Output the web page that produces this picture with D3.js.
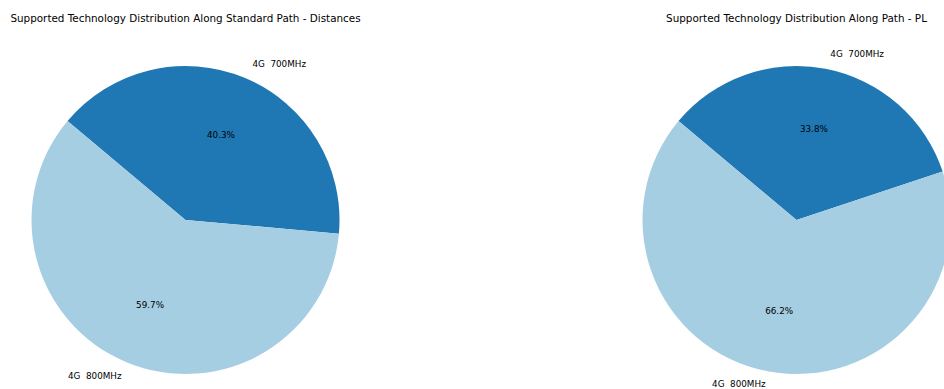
<!DOCTYPE html>
<html>
<head>
<meta charset="utf-8">
<script src="https://cdn.jsdelivr.net/npm/d3@7"></script>
<style>
  html, body { margin: 0; padding: 0; background: #fff; }
  svg { display: block; font-family: "DejaVu Sans", sans-serif; }
  text { white-space: pre; }
</style>
</head>
<body>
<svg id="chart" width="944" height="389"></svg>
<script>
// Technology share along each path
const categories = ["4G  700MHz", "4G  800MHz"];
const distancesShare = [40.3, 59.7];
const plShare = [33.8, 66.2];
const sliceColors = ["#1f78b4", "#a6cee3"];
const titles = [
  "Supported Technology Distribution Along Standard Path - Distances",
  "Supported Technology Distribution Along Path - PL"
];

const width = 944, height = 389;
const svg = d3.select("#chart");
const radius = 154;
const centers = [[185.5, 220], [796.5, 220]];
const startDeg = 140; // first wedge starts here, slices run clockwise

const color = d3.scaleOrdinal().domain(categories).range(sliceColors);

function drawPie(values, center, title) {
  const data = categories.map((c, i) => ({ cat: c, value: values[i] }));
  // d3 angles: 0 at 12 o'clock, clockwise. Convert from math angle 140°.
  const start = (90 - startDeg) * Math.PI / 180;
  const pie = d3.pie().sort(null).value(d => d.value)
    .startAngle(start).endAngle(start + 2 * Math.PI);
  const arcs = pie(data);
  const arc = d3.arc().innerRadius(0).outerRadius(radius);

  const g = svg.append("g").attr("transform", `translate(${center[0]},${center[1]})`);
  g.selectAll("path").data(arcs).join("path")
    .attr("d", arc)
    .attr("fill", d => color(d.data.cat));

  const mid = d => (d.startAngle + d.endAngle) / 2;
  const maxY = height - center[1] - 5;
  // category labels outside the pie
  g.selectAll("text.lab").data(arcs).join("text")
    .attr("class", "lab")
    .attr("x", d => Math.sin(mid(d)) * radius * 1.1 + (Math.sin(mid(d)) >= 0 ? 2 : 1))
    .attr("y", d => Math.min(-Math.cos(mid(d)) * radius * 1.1, maxY))
    .attr("text-anchor", d => Math.sin(mid(d)) >= 0 ? "start" : "end")
    .attr("dominant-baseline", "central")
    .attr("font-size", 8.8)
    .attr("fill", "#000")
    .text(d => d.data.cat);
  // percentages inside
  g.selectAll("text.pct").data(arcs).join("text")
    .attr("class", "pct")
    .attr("x", d => Math.sin(mid(d)) * radius * 0.6)
    .attr("y", d => -Math.cos(mid(d)) * radius * 0.6)
    .attr("text-anchor", "middle")
    .attr("dominant-baseline", "central")
    .attr("font-size", 8.8)
    .attr("fill", "#000")
    .text(d => d.data.value.toFixed(1) + "%");

  svg.append("text")
    .attr("x", center[0])
    .attr("y", 18)
    .attr("text-anchor", "middle")
    .attr("dominant-baseline", "central")
    .attr("font-size", 10.4)
    .attr("fill", "#000")
    .text(title);
}

drawPie(distancesShare, centers[0], titles[0]);
drawPie(plShare, centers[1], titles[1]);
</script>
</body>
</html>
